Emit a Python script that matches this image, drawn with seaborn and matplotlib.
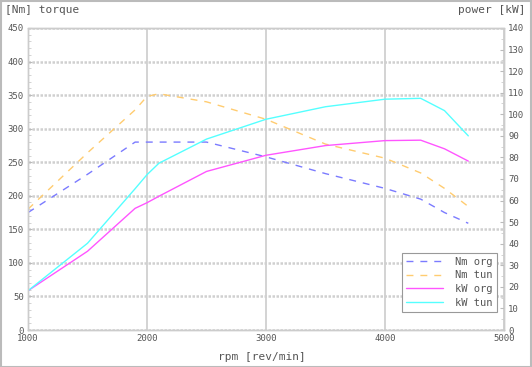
import matplotlib
matplotlib.use("Agg")
import matplotlib.pyplot as plt
from matplotlib.ticker import MultipleLocator
import seaborn as sns
import pandas as pd

rpm = [1000, 1500, 1900, 2000, 2100, 2500, 3000, 3500, 4000, 4300, 4500, 4700]
nm_org = [175, 232, 280, 280, 280, 280, 258, 233, 211, 195, 175, 159]
nm_tun = [180, 264, 328, 348, 352, 340, 314, 277, 256, 234, 211, 184]
kw_org = [18.2, 36.5, 56.4, 59, 62, 73.5, 81, 85.5, 87.8, 88, 84, 78.3]
kw_tun = [18.2, 40.2, 65.5, 72, 77.3, 88.5, 97.7, 103.5, 107, 107.4, 101.7, 90]

c_nm_org = "#7b7bff"
c_nm_tun = "#ffcc70"
c_kw_org = "#ff55ff"
c_kw_tun = "#55ffff"
txt = "#555555"

sns.set_style("white")
plt.rcParams['font.family'] = ['DejaVu Sans Mono']

df = pd.DataFrame({"rpm": rpm, "nm_org": nm_org, "nm_tun": nm_tun,
                   "kw_org": kw_org, "kw_tun": kw_tun})

fig = plt.figure(figsize=(5.32, 3.67), dpi=100)
ax = fig.add_axes([28/532, 1-330/367, (504-28)/532, (330-28)/367])
ax2 = ax.twinx()

sns.lineplot(data=df, x="rpm", y="nm_org", ax=ax, color=c_nm_org, lw=1.0,
             linestyle=(0, (5, 5)), label="Nm org", legend=False)
sns.lineplot(data=df, x="rpm", y="nm_tun", ax=ax, color=c_nm_tun, lw=1.0,
             linestyle=(0, (5, 5)), label="Nm tun", legend=False)
sns.lineplot(data=df, x="rpm", y="kw_org", ax=ax2, color=c_kw_org, lw=1.0,
             label="kW org", legend=False)
sns.lineplot(data=df, x="rpm", y="kw_tun", ax=ax2, color=c_kw_tun, lw=1.0,
             label="kW tun", legend=False)

ax.set_xlim(1000, 5000)
ax.set_ylim(0, 450)
ax2.set_ylim(0, 140)
ax.xaxis.set_major_locator(MultipleLocator(1000))
ax.xaxis.set_minor_locator(MultipleLocator(200))
ax.yaxis.set_major_locator(MultipleLocator(50))
ax.yaxis.set_minor_locator(MultipleLocator(10))
ax2.yaxis.set_major_locator(MultipleLocator(10))
ax2.yaxis.set_minor_locator(MultipleLocator(5))

ax.grid(True, which="major", axis="y", color="#d0d0d0", lw=1.8, linestyle=(0, (1, 0.6)))
ax.grid(True, which="major", axis="x", color="#cccccc", lw=1.2)
ax.set_axisbelow(True)

for a in (ax, ax2):
    for s in a.spines.values():
        s.set_color("#cccccc")
        s.set_linestyle((0, (1, 1)))
        s.set_linewidth(1.0)
    a.set_xlabel("")
    a.set_ylabel("")

ax.tick_params(axis="both", which="major", labelsize=6.5, colors=txt, length=3,
               direction="in", pad=3, color="#bbbbbb")
ax.tick_params(axis="both", which="minor", length=2, direction="in", color="#cccccc")
ax2.tick_params(axis="y", which="major", labelsize=6.5, colors=txt, length=3,
                direction="in", pad=3, color="#bbbbbb")
ax2.tick_params(axis="y", which="minor", length=2, direction="in", color="#cccccc")
for lbl in ax.get_xticklabels() + ax.get_yticklabels() + ax2.get_yticklabels():
    lbl.set_color(txt)

fig.text(5/532, 1-10/367, "[Nm] torque", fontsize=8, color=txt, va="center", ha="left")
fig.text(526/532, 1-10/367, "power [kW]", fontsize=8, color=txt, va="center", ha="right")
fig.text(262/532, 1-357/367, "rpm [rev/min]", fontsize=8, color=txt, va="center", ha="center")

h1, l1 = ax.get_legend_handles_labels()
h2, l2 = ax2.get_legend_handles_labels()
leg = ax2.legend(h1 + h2, l1 + l2, loc="lower right", bbox_to_anchor=(0.985, 0.06),
                 borderaxespad=0, fontsize=7.5, frameon=True, fancybox=False,
                 framealpha=1, edgecolor="#999999", handlelength=3.5,
                 labelspacing=0.35, borderpad=0.4, handletextpad=1.2)
leg.get_frame().set_linewidth(0.8)
for t in leg.get_texts():
    t.set_color(txt)

border = plt.Rectangle((0.001, 0.001), 0.997, 0.996, transform=fig.transFigure,
                       fill=False, edgecolor="#bbbbbb", lw=1.5)
fig.patches.append(border)

fig.savefig("out.png", dpi=100)
